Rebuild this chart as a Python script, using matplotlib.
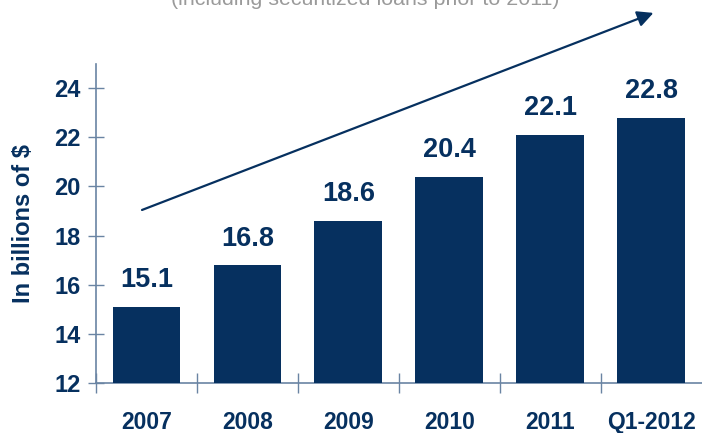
import numpy as np
import matplotlib
matplotlib.use('Agg')
import matplotlib.pyplot as plt

# data
years = ['2007', '2008', '2009', '2010', '2011', 'Q1-2012']
values = [15.1, 16.8, 18.6, 20.4, 22.1, 22.8]
yticks = [12, 14, 16, 18, 20, 22, 24]

navy = '#06305f'
axcol = '#6a84a3'

plt.rcParams['font.family'] = ['Liberation Sans', 'DejaVu Sans']

fig = plt.figure(figsize=(7.02, 4.33), dpi=100)
ax = fig.add_axes([0.1368, 0.1155, 0.8653, 0.7378])

x = np.arange(len(years))
ax.bar(x, [v - 12 for v in values], bottom=12, width=0.67, color=navy, zorder=3)
for xi, v in zip(x, values):
    ax.text(xi, v + 0.55, '%.1f' % v, ha='center', va='bottom',
            fontsize=19.5, fontweight='bold', color=navy)

ax.set_xlim(-0.5, len(years) - 0.5 + 0.02)
ax.set_ylim(12, 25)

# axes style
for s in ['top', 'right']:
    ax.spines[s].set_visible(False)
for s in ['left', 'bottom']:
    ax.spines[s].set_color(axcol)
    ax.spines[s].set_linewidth(1.2)

ax.set_yticks(yticks)
ax.set_yticklabels([str(t) for t in yticks])
ax.tick_params(axis='y', direction='inout', length=12, width=1, color=axcol,
               labelsize=17, labelcolor=navy, pad=5)
for lab in ax.get_yticklabels():
    lab.set_fontweight('bold')

# category boundaries as ticks, labels centered
ax.set_xticks(np.arange(len(years)) - 0.5)
ax.set_xticklabels([])
ax.set_xticks(x, minor=True)
ax.set_xticklabels(years, minor=True)
ax.tick_params(axis='x', which='major', direction='inout', length=14, width=1, color=axcol)
ax.tick_params(axis='x', which='minor', length=0, pad=20, labelsize=16.5, labelcolor=navy)
for lab in ax.get_xticklabels(minor=True):
    lab.set_fontweight('bold')

ax.set_ylabel('In billions of $', fontsize=17, fontweight='bold', color=navy, labelpad=14)

# growth arrow
ax.annotate('', xy=(5.05, 27.1), xytext=(-0.07, 19.0),
            arrowprops=dict(arrowstyle='-|>', color=navy, lw=1.6, mutation_scale=24),
            annotation_clip=False)

# subtitle (cropped at the top)
fig.text(0.52, 1 - 5 / 433, '(including securitized loans prior to 2011)',
         ha='center', va='baseline', fontsize=15.4, color='#9a9a9a')

plt.savefig('out.png', dpi=100)
plt.close()
